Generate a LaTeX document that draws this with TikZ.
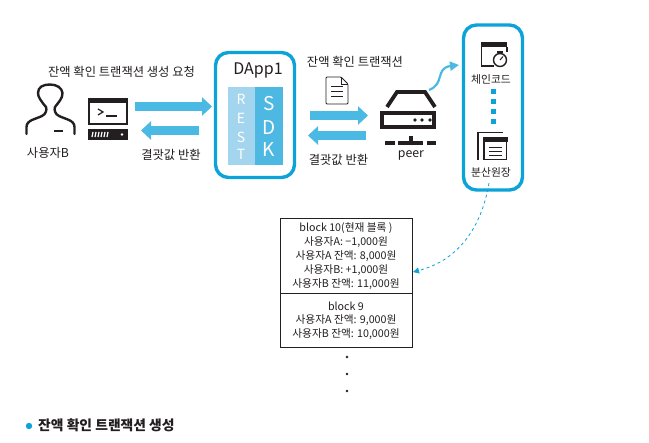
\documentclass[tikz,border=0pt]{standalone}
\usepackage{fontspec}
\setmainfont{Noto Sans CJK KR}
\usetikzlibrary{arrows.meta,shapes.geometric}
\definecolor{framebl}{HTML}{0CA3D9}
\definecolor{arrowbl}{HTML}{4AB9E3}
\definecolor{restbl}{HTML}{A3D5EE}
\definecolor{sdkbl}{HTML}{4DB8E2}
\definecolor{ink}{HTML}{231F20}
\newcommand{\fs}[1]{\fontsize{#1}{#1}\selectfont}
\tikzset{
  x=1pt,y=-1pt,
  lbl/.style={inner sep=0pt,text=ink,font=\fs{12.3}},
  small/.style={inner sep=0pt,text=ink,font=\fs{10.8}},
  blockarrow/.style={draw=arrowbl,line width=9pt,-{Triangle[length=10pt,width=18pt]}},
  frame/.style={draw=framebl,line width=3.4pt,rounded corners=13pt,fill=white,minimum width=#1,inner sep=0pt},
  icon/.style={draw=ink,line width=2.4pt,line join=miter},
  blockbox/.style={draw=ink,line width=0.9pt,fill=white,minimum width=132pt,inner sep=0pt,align=center,text=ink,font=\fs{10.7}},
  stackdot/.style={circle,fill=ink,minimum size=2.8pt,inner sep=0pt},
  restl/.style={inner sep=0pt,text=white,font=\fs{14}},
  sdkl/.style={inner sep=0pt,text=white,font=\fs{19}},
}
\begin{document}
\begin{tikzpicture}
\useasboundingbox (0,0) rectangle (649,443);
\fill[white] (0,0) rectangle (649,443);

% labels, left
\node[lbl] (reqlabel) at (121.5,72) {잔액 확인 트랜잭션 생성 요청};
\node[lbl] (userlabel) at (48,153) {사용자B};
\node[lbl] (retlabelA) at (171,155) {결괏값 반환};

% person
\draw[icon,line cap=round,line join=round] (26.5,134) -- (26.5,127)
  .. controls (26.5,120) and (36,119) .. (42,116)
  .. controls (46,114) and (47,110) .. (46,107)
  .. controls (41,101) and (38,97) .. (38,93)
  .. controls (38,87) and (43,84.5) .. (50,84.5)
  .. controls (57,84.5) and (62,88) .. (62.5,93)
  .. controls (63,98) and (58,103) .. (55,107)
  .. controls (54,110) and (55,114) .. (59,116)
  .. controls (65,119) and (74.5,120) .. (74.5,127) -- (74.5,134);
\fill[ink] (54,130) rectangle (63,132.5);

% terminal
\draw[icon] (89,99) rectangle (127,124);
\fill[ink] (88,98) rectangle (128,103);
\draw[ink,line width=1.2pt] (98,109) -- (103,112) -- (98,115);
\draw[ink,line width=1.2pt] (106,116) -- (117,116);
\fill[ink] (88,129) rectangle (128,140);
\foreach \xx in {93,96,99,102,105,108} \draw[white,line width=1.2pt] (\xx,132) -- (\xx-1,137);
\fill[white] (122,134.5) circle (1.3);

% left arrows
\coordinate (a1s) at (135,106.5); \coordinate (a1e) at (212,106.5);
\coordinate (a2s) at (199,130.5); \coordinate (a2e) at (141,130.5);
\draw[blockarrow] (a1s) -- (a1e);
\draw[blockarrow] (a2s) -- (a2e);

% DApp frame
\node[frame=79pt,minimum height=125pt] (dapp) at (255,115) {};
\node[inner sep=0pt,text=ink,font=\fs{16}] (dapptitle) at (258,70) {DApp1};
\node[fill=restbl,minimum width=27pt,minimum height=78pt,inner sep=0pt] (rest) at (241.5,126) {};
\node[fill=sdkbl,minimum width=28pt,minimum height=78pt,inner sep=0pt] (sdk) at (269,126) {};
\node[restl] (r1) at (241,99) {R};
\node[restl] (r2) at (241,118) {E};
\node[restl] (r3) at (241,137) {S};
\node[restl] (r4) at (241,154) {T};
\node[sdkl] (s1) at (269,104) {S};
\node[sdkl] (s2) at (269,128) {D};
\node[sdkl] (s3) at (269,150) {K};

% middle
\node[lbl] (txlabel) at (355,62) {잔액 확인 트랜잭션};
\node[lbl] (retlabelB) at (338.5,160) {결괏값 반환};
\draw[ink,line width=0.8pt,line join=round,fill=white,rounded corners=1pt] (326,77) -- (341,77) -- (348,84) -- (348,104) -- (326,104) -- cycle;
\draw[ink,line width=0.8pt] (341,77) -- (341,84) -- (348,84);
\foreach \yy in {86,91,96} \draw[ink,line width=0.8pt] (331,\yy) -- (343,\yy);
\coordinate (a3s) at (310,115.5); \coordinate (a3e) at (368,115.5);
\coordinate (a4s) at (366,135.5); \coordinate (a4e) at (308,135.5);
\draw[blockarrow] (a3s) -- (a3e);
\draw[blockarrow] (a4s) -- (a4e);

% peer
\draw[ink,line width=3.8pt,line join=miter] (387,107) -- (397,92) -- (425,92) -- (435,107);
\draw[ink,line width=3.8pt] (381.9,112.9) rectangle (434.1,127.1);
\foreach \xx in {415,422,430} \fill[ink] (\xx,120) circle (1.8);
\fill[ink] (385,141) rectangle (395,145);
\fill[ink] (398,141) rectangle (423,145);
\fill[ink] (409,136) rectangle (413,141);
\fill[ink] (427,141) rectangle (436,145);
\node[lbl] (peerlabel) at (411,155) {peer};

% right frame
\node[frame=59pt,minimum height=165pt] (chain) at (493,107.5) {};
% chaincode icon
\draw[ink,line width=1.4pt] (481.5,43) -- (481.5,66) -- (494,66);
\fill[ink] (481,42) rectangle (507,47);
\draw[ink,line width=1.4pt] (507,47) -- (507,52);
\draw[ink,line width=1.4pt,fill=white] (500,60) circle (6.5);
\draw[ink,line width=1.4pt] (497,52) -- (503,52);
\draw[ink,line width=1pt] (500,60) -- (503,56.5);
\node[small] (cclabel) at (491,79) {체인코드};
\foreach \yy in {92,102,112,122} \fill[framebl] (490.5,\yy-2.5) rectangle (495.5,\yy+2.5);
% ledger icon
\draw[ink,line width=1.4pt] (478,160) -- (478,132.5) -- (503,132.5);
\draw[ink,line width=1.6pt] (484,138) rectangle (506.5,159.5);
\fill[ink] (483,137) rectangle (507.5,142);
\foreach \yy in {147,151,155} \draw[ink,line width=0.8pt] (489,\yy) -- (502,\yy);
\node[small] (ledlabel) at (491,172) {분산원장};

% curved arrow
\coordinate (c1s) at (429,90);
\coordinate (c1e) at (459,65);
\draw[arrowbl,line width=2.2pt,-{Triangle[length=9pt,width=9pt]}] (c1s) .. controls (445,84) and (435,68) .. (c1e);

% block table
\node[blockbox,minimum height=75pt] (b10) at (346,256) {block 10(현재 블록 )\\[2.3pt]사용자A: −1,000원\\[2.3pt]사용자A 잔액: 8,000원\\[2.3pt]사용자B: +1,000원\\[2.3pt]사용자B 잔액: 11,000원};
\node[blockbox,minimum height=54pt,anchor=north,yshift=0.9pt] (b9) at (b10.south) {block 9\\[2.3pt]사용자A 잔액: 9,000원\\[2.3pt]사용자B 잔액: 10,000원};
\node[stackdot] (d1) at (347,357) {};
\node[stackdot] (d2) at (347,374) {};
\node[stackdot] (d3) at (347,391) {};

% dashed link
\coordinate (dls) at (489,183);
\coordinate (dle) at (413,272);
\draw[framebl,line width=0.8pt,dashed,-{Triangle[length=6pt,width=6pt]}] (dls) .. controls (482,225) and (460,260) .. (dle);

% caption
\fill[framebl] (29,426) circle (3.2);
\node[inner sep=0pt,anchor=west,text=ink,font=\fs{13.8}\bfseries] (caption) at (38,425) {잔액 확인 트랜잭션 생성};
\end{tikzpicture}
\end{document}
